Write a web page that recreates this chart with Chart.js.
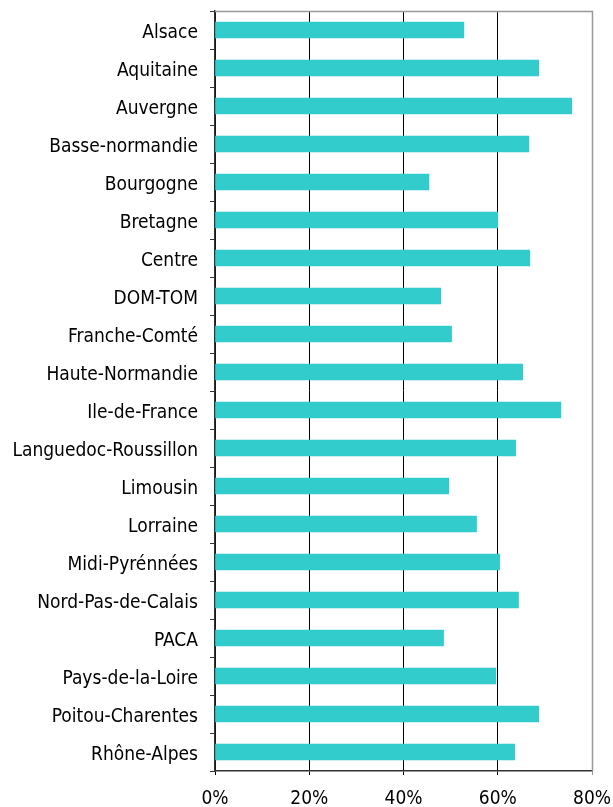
<!DOCTYPE html>
<html>
<head>
<meta charset="utf-8">
<script src="https://cdn.jsdelivr.net/npm/chart.js@4/dist/chart.umd.min.js"></script>
<style>
html,body{margin:0;padding:0;background:#fff;}
#wrap{width:613px;height:807px;}
</style>
</head>
<body>
<div id="wrap"><canvas id="c" width="613" height="807"></canvas></div>
<script>
const categories = ["Alsace","Aquitaine","Auvergne","Basse-normandie","Bourgogne","Bretagne","Centre","DOM-TOM","Franche-Comté","Haute-Normandie","Ile-de-France","Languedoc-Roussillon","Limousin","Lorraine","Midi-Pyrénnées","Nord-Pas-de-Calais","PACA","Pays-de-la-Loire","Poitou-Charentes","Rhône-Alpes"];
const values = [52.8,68.7,75.7,66.6,45.4,60.0,66.8,47.9,50.2,65.3,73.4,63.8,49.6,55.5,60.4,64.4,48.5,59.6,68.7,63.6];
const xTicks = [0,20,40,60,80];

const FONT = "'DejaVu Sans Condensed', 'DejaVu Sans', Verdana, sans-serif";

function zeroPad(axis){
  axis.paddingLeft = 0; axis.paddingRight = 0;
  axis.paddingTop = 0; axis.paddingBottom = 0;
}

const framePlugin = {
  id: 'frame',
  afterDraw(chart){
    const a = chart.chartArea, ctx = chart.ctx;
    ctx.save();
    ctx.strokeStyle = '#999999';
    ctx.lineWidth = 1.5;
    ctx.beginPath();
    ctx.moveTo(a.left, a.top + 0.5);
    ctx.lineTo(a.right + 0.5, a.top + 0.5);
    ctx.lineTo(a.right + 0.5, a.bottom);
    ctx.stroke();
    ctx.restore();
  }
};

new Chart(document.getElementById('c'), {
  type: 'bar',
  data: {
    labels: categories,
    datasets: [{
      data: values,
      backgroundColor: '#33CCCC',
      borderWidth: 0,
      barThickness: 16
    }]
  },
  options: {
    indexAxis: 'y',
    responsive: false,
    animation: false,
    devicePixelRatio: 1,
    layout: { padding: { top: 11, right: 21, left: 0, bottom: 0 } },
    plugins: { legend: { display: false }, tooltip: { enabled: false } },
    scales: {
      x: {
        min: 0, max: 80,
        afterBuildTicks(axis){ axis.ticks = xTicks.map(v => ({value: v})); },
        afterFit(axis){ axis.height = 36; zeroPad(axis); },
        ticks: {
          callback: v => v + '%',
          color: '#000',
          font: { family: FONT, size: 19 },
          padding: 13,
          maxRotation: 0
        },
        grid: {
          color: ctx => (ctx.tick && ctx.tick.value === 80) ? '#999999' : '#000000',
          lineWidth: 1,
          tickLength: 4,
          drawTicks: true
        },
        border: { display: true, color: '#333333', width: 1.5 }
      },
      y: {
        afterFit(axis){ axis.width = 215; zeroPad(axis); },
        ticks: {
          color: '#000',
          font: { family: FONT, size: 19 },
          padding: 12,
          labelOffset: 3,
          autoSkip: false
        },
        grid: {
          offset: true,
          drawOnChartArea: false,
          color: '#333333',
          tickLength: 5
        },
        border: { display: true, color: '#333333', width: 1.5 }
      }
    }
  },
  plugins: [framePlugin]
});
</script>
</body>
</html>
